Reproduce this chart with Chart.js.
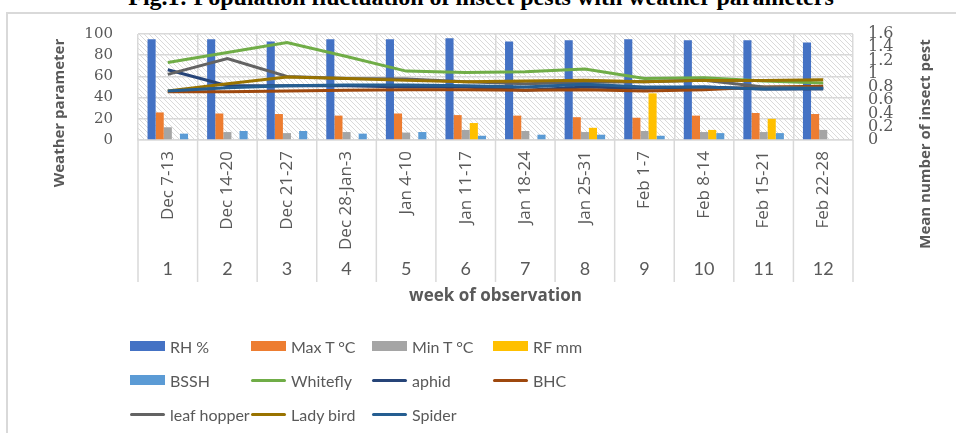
<!DOCTYPE html>
<html>
<head>
<meta charset="utf-8">
<script src="https://cdn.jsdelivr.net/npm/chart.js@4.4.0/dist/chart.umd.min.js"></script>
<style>
  html, body { margin: 0; padding: 0; background: #fff; overflow: hidden; }
  #wrap { position: relative; width: 956px; height: 433px; overflow: hidden; }
  #frame { position: absolute; left: 6px; top: 12px; width: 960px; height: 440px;
           border-left: 2px solid #d9d9d9; border-top: 2px solid #d9d9d9; }
  #title { position: absolute; left: 0; top: -16px; width: 962px; text-align: center;
           font: bold 24px "Liberation Serif", serif; color: #000; white-space: nowrap; }
  canvas { position: absolute; left: 0; top: 0; }
  #legend { position: absolute; left: 130px; top: 336px; display: grid;
            grid-template-columns: repeat(4, 121px); row-gap: 14px; }
  .item { display: flex; align-items: center; height: 20px; white-space: nowrap;
          font: 16px Lato, sans-serif; color: #595959; }
  .sw { width: 35px; margin-right: 5px; flex: none; }
</style>
</head>
<body>
<div id="wrap">
  <div id="frame"></div>
  <div id="title">Fig.1: Population fluctuation of insect pests with weather parameters</div>
  <canvas id="chart" width="956" height="433"></canvas>
  <div id="legend"></div>
</div>
<script>
// semanas de observación
const weekNumbers = ['1', '2', '3', '4', '5', '6', '7', '8', '9', '10', '11', '12'];
const weekDates = ['Dec 7-13', 'Dec 14-20', 'Dec 21-27', 'Dec 28-Jan-3', 'Jan 4-10', 'Jan 11-17',
                   'Jan 18-24', 'Jan 25-31', 'Feb 1-7', 'Feb 8-14', 'Feb 15-21', 'Feb 22-28'];

// parámetros del clima (eje izquierdo)
const rh   = [95, 95, 93, 95, 95, 96, 93, 94, 95, 94, 94, 92];
const maxT = [26, 25, 24.5, 23, 25, 23.5, 23, 21.5, 21, 23, 25.5, 24.5];
const minT = [12, 7.5, 6.5, 7.5, 7, 9.5, 8.5, 7.5, 8.5, 7.5, 7.5, 9.5];
const rf   = [0, 0, 0, 0, 0, 16, 0, 11.5, 44, 9.5, 20, 0];
const bssh = [6, 8.5, 8.5, 6, 7.5, 4, 5, 5, 4, 6.5, 6.5, 0];

// número medio de plagas (eje derecho)
const whitefly   = [1.17, 1.32, 1.47, 1.26, 1.04, 1.02, 1.03, 1.07, 0.93, 0.94, 0.89, 0.86];
const aphid      = [1.06, 0.82, 0.82, 0.82, 0.80, 0.80, 0.75, 0.80, 0.78, 0.80, 0.77, 0.77];
const bhc        = [0.73, 0.73, 0.74, 0.75, 0.76, 0.76, 0.75, 0.76, 0.74, 0.76, 0.80, 0.81];
const leafHopper = [0.99, 1.23, 0.96, 0.93, 0.92, 0.88, 0.85, 0.87, 0.88, 0.90, 0.80, 0.78];
const ladyBird   = [0.74, 0.85, 0.95, 0.93, 0.90, 0.88, 0.89, 0.90, 0.88, 0.90, 0.90, 0.91];
const spider     = [0.74, 0.79, 0.82, 0.83, 0.83, 0.82, 0.80, 0.84, 0.80, 0.80, 0.77, 0.78];

const grey = '#595959';
const gridCol = '#d9d9d9';

function bar(label, data, color) {
  return { type: 'bar', label: label, data: data, backgroundColor: color, yAxisID: 'y', order: 10 };
}
function line(label, data, color, order) {
  return { type: 'line', label: label, data: data, borderColor: color, backgroundColor: color,
           borderWidth: 3, pointRadius: 0, tension: 0, yAxisID: 'y1', order: order };
}

// fondo rayado del área del gráfico
const hatch = {
  id: 'hatch',
  beforeDatasetsDraw(chart) {
    const ys = chart.scales.y, xs = chart.scales.x, ctx = chart.ctx;
    const p = document.createElement('canvas');
    p.width = 5; p.height = 5;
    const pc = p.getContext('2d');
    pc.strokeStyle = '#dadada';
    pc.lineWidth = 1;
    pc.beginPath();
    pc.moveTo(-1, -1); pc.lineTo(6, 6);
    pc.moveTo(-1, 4); pc.lineTo(1, 6);
    pc.moveTo(4, -1); pc.lineTo(6, 1);
    pc.stroke();
    ctx.save();
    ctx.beginPath();
    ctx.rect(xs.left, ys.top, xs.right - xs.left, ys.bottom - ys.top);
    ctx.clip();
    ctx.globalCompositeOperation = 'destination-over';
    ctx.fillStyle = ctx.createPattern(p, 'repeat');
    ctx.fillRect(xs.left, ys.top, xs.right - xs.left, ys.bottom - ys.top);
    ctx.restore();
  },
  afterDraw(chart) {
    const ctx = chart.ctx, a = chart.chartArea, xs = chart.scales.x;
    ctx.save();
    // separadores del eje de categorías
    ctx.strokeStyle = gridCol;
    ctx.lineWidth = 1.5;
    const n = weekDates.length;
    for (let i = 0; i <= n; i++) {
      const x = xs.left + (xs.right - xs.left) * i / n;
      ctx.beginPath();
      ctx.moveTo(x, a.bottom);
      ctx.lineTo(x, 282);
      ctx.stroke();
    }
    // títulos de los ejes verticales
    ctx.fillStyle = grey;
    ctx.font = 'bold 15px "Open Sans"';
    ctx.textAlign = 'center';
    ctx.textBaseline = 'middle';
    ctx.translate(60, 113);
    ctx.rotate(-Math.PI / 2);
    ctx.fillText('Weather parameter', 0, 0);
    ctx.setTransform(1, 0, 0, 1, 0, 0);
    ctx.translate(926, 144);
    ctx.rotate(-Math.PI / 2);
    ctx.fillText('Mean number of insect pest', 0, 0);
    ctx.restore();
  }
};

const chart = new Chart(document.getElementById('chart'), {
  data: {
    labels: weekDates,
    datasets: [
      bar('RH %', rh, '#4472C4'),
      bar('Max T °C', maxT, '#ED7D31'),
      bar('Min T °C', minT, '#A5A5A5'),
      bar('RF mm', rf, '#FFC000'),
      bar('BSSH', bssh, '#5B9BD5'),
      line('Whitefly', whitefly, '#70AD47', 6),
      line('aphid', aphid, '#264478', 5),
      line('BHC', bhc, '#9E480E', 4),
      line('leaf hopper', leafHopper, '#636363', 3),
      line('Lady bird', ladyBird, '#997300', 2),
      line('Spider', spider, '#255E91', 1)
    ]
  },
  options: {
    responsive: false,
    animation: false,
    layout: { padding: { top: 34, bottom: 125, left: 0, right: 0 } },
    datasets: { bar: { categoryPercentage: 0.68, barPercentage: 1.0 } },
    plugins: { legend: { display: false }, tooltip: { enabled: false } },
    scales: {
      x: {
        offset: true,
        weight: 0,
        grid: { color: gridCol, lineWidth: 1.5, drawTicks: false, offset: true },
        border: { color: gridCol, width: 1.5 },
        ticks: { color: grey, font: { family: 'Open Sans', size: 17 }, minRotation: 90, maxRotation: 90,
                 autoSkip: false, padding: 11 },
        afterFit(s) { s.height = 118; }
      },
      x2: {
        type: 'category',
        labels: weekNumbers,
        position: 'bottom',
        offset: true,
        weight: 1,
        grid: { display: false, drawTicks: false },
        border: { display: false },
        ticks: { color: grey, font: { family: 'Lato', size: 18 }, padding: 0, autoSkip: false, maxRotation: 0 },
        title: { display: true, text: 'week of observation', color: grey,
                 font: { family: 'Open Sans', size: 17, weight: 'bold' }, padding: { top: 0, bottom: 2 } },
        afterFit(s) { s.height = 50; }
      },
      y: {
        position: 'left',
        min: 0, max: 100,
        ticks: { stepSize: 20, color: grey, font: { family: 'DejaVu Serif', size: 15 }, padding: 25 },
        grid: { color: gridCol, lineWidth: 1.5, drawTicks: false },
        border: { display: false },
        afterFit(s) { s.width = 138; }
      },
      y1: {
        position: 'right',
        min: 0, max: 1.6,
        ticks: { stepSize: 0.2, autoSkip: false, color: grey, font: { family: 'DejaVu Serif', size: 16 },
                 padding: 15, callback: v => String(+v.toFixed(1)) },
        grid: { display: false, drawTicks: false },
        border: { display: false },
        afterFit(s) { s.width = 103; }
      }
    }
  },
  plugins: [hatch]
});

// leyenda en cuatro columnas, como en el original
const legend = document.getElementById('legend');
chart.data.datasets.forEach(ds => {
  const item = document.createElement('div');
  item.className = 'item';
  const sw = document.createElement('span');
  sw.className = 'sw';
  sw.style.background = ds.type === 'bar' ? ds.backgroundColor : ds.borderColor;
  sw.style.height = ds.type === 'bar' ? '10px' : '3px';
  if (ds.type === 'line') sw.style.borderRadius = '2px';
  item.appendChild(sw);
  item.appendChild(document.createTextNode(ds.label));
  legend.appendChild(item);
});
</script>
</body>
</html>
